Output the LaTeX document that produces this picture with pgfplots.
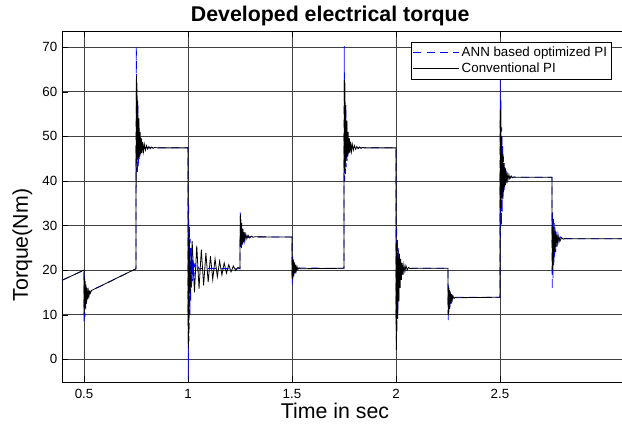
\documentclass[border=0pt]{standalone}
\usepackage{pgfplots}
\pgfplotsset{compat=1.18}
\usepackage{fontspec}
\setmainfont{Liberation Sans}
\usetikzlibrary{calc}
\begin{document}
\begin{tikzpicture}
\begin{axis}[
  scale only axis, width=420pt, height=263.25pt,
  xmin=0.394, xmax=3.087, ymin=-5.1, ymax=73.6,
  axis x line*=box, axis y line*=left,
  xtick={0.5,1,1.5,2,2.5}, ytick={0,10,...,70},
  xticklabels={0.5,1,1.5,2,2.5},
  grid=major, major grid style={black!75, line width=0.5pt},
  tick style={black}, tick align=inside,
  ticklabel style={font=\fontsize{10}{12}\selectfont},
  xticklabel style={yshift=-2pt},
  /pgf/number format/assume math mode=true,
  title={\bfseries Developed electrical torque},
  title style={font=\fontsize{16}{19}\selectfont, at={(axis description cs:0.479,1.0)}, anchor=south, yshift=-6pt},
  xlabel={Time in sec}, ylabel={Torque(Nm)},
  xlabel style={font=\fontsize{16}{19}\selectfont, at={(axis description cs:0.4875,-0.083)}, anchor=center},
  ylabel style={font=\fontsize{16}{19}\selectfont, at={(axis description cs:-0.071,0.39)}, anchor=center},
  legend style={at={(0.982,0.969)}, anchor=north east, draw=black, fill=white,
    font=\fontsize{10}{11}\selectfont, inner sep=1.5pt, row sep=-1pt, cells={anchor=west}},
  legend image code/.code={\draw[#1] (0pt,0pt) -- (34pt,0pt);},
]
\addplot[blue, line width=0.6pt, dash pattern=on 6pt off 4pt] coordinates {
(0.394,17.7) (0.5,20.0)
(0.5004,8.0) (0.502,18.5) (0.504,9.5) (0.506,17.5) (0.508,11.2) (0.510,16.5) (0.512,12.5) (0.514,15.8) (0.516,13.5) (0.519,15.3) (0.522,14.4) (0.526,15.1) (0.530,14.8) (0.535,15.4)
(0.75,20.3)
(0.7504,50) (0.7515,70) (0.753,42) (0.755,62) (0.757,41.6) (0.759,57) (0.761,43) (0.763,53) (0.765,44.5) (0.767,50.5) (0.769,45.5) (0.772,49) (0.775,46.5) (0.778,48.3) (0.782,47.0) (0.787,47.7) (0.793,47.3) (0.80,47.45)
(1.0,47.4)
(1.0004,10) (1.0015,-4.5) (1.003,35) (1.005,4) (1.007,30) (1.009,10) (1.011,27) (1.013,13) (1.015,25) (1.017,16) (1.019,23.5) (1.021,17.5) (1.024,22.3) (1.027,18.6) (1.030,21.5) (1.034,19.4) (1.038,21.0) (1.043,19.9) (1.049,20.6) (1.056,20.2) (1.065,20.35)
(1.25,20.3)
(1.2504,25) (1.2515,33.5) (1.253,24.8) (1.255,31.5) (1.257,25.0) (1.259,30.0) (1.261,25.6) (1.263,29.2) (1.265,26.0) (1.268,28.5) (1.271,26.6) (1.275,28.0) (1.279,27.0) (1.284,27.7) (1.29,27.3) (1.297,27.45)
(1.5,27.4)
(1.5004,18) (1.5015,16.8) (1.503,23) (1.505,17.8) (1.507,22.2) (1.509,18.6) (1.511,21.6) (1.513,19.2) (1.516,21.1) (1.519,19.8) (1.523,20.7) (1.528,20.2) (1.534,20.45)
(1.75,20.4)
(1.7504,50) (1.7515,70.2) (1.753,40) (1.755,62) (1.757,41.5) (1.759,57) (1.761,43) (1.763,53) (1.765,44.5) (1.767,50.5) (1.769,45.5) (1.772,49) (1.775,46.5) (1.778,48.3) (1.782,47.0) (1.787,47.7) (1.793,47.3) (1.80,47.45)
(2.0,47.4)
(2.0004,12) (2.0015,4.3) (2.003,30) (2.005,6) (2.007,27) (2.009,10) (2.011,25) (2.013,13.5) (2.015,23.5) (2.017,16) (2.020,22.5) (2.023,17.8) (2.026,21.6) (2.030,19.0) (2.034,21.0) (2.039,19.8) (2.045,20.6) (2.052,20.2) (2.06,20.4)
(2.25,20.4)
(2.2504,12) (2.2515,8.4) (2.253,16.5) (2.255,10.0) (2.257,15.6) (2.259,11.5) (2.261,15.0) (2.263,12.4) (2.266,14.5) (2.269,13.1) (2.273,14.2) (2.278,13.6) (2.284,13.9)
(2.5,13.9)
(2.5004,40) (2.5015,64) (2.503,27.4) (2.505,58) (2.507,30) (2.509,52) (2.511,33) (2.513,48) (2.515,35.5) (2.517,45.5) (2.520,37.5) (2.523,43.5) (2.526,39) (2.530,42.3) (2.534,40.0) (2.539,41.4) (2.545,40.5) (2.552,40.9) (2.56,40.8)
(2.75,40.8)
(2.7504,25) (2.7515,15.5) (2.753,33) (2.755,18) (2.757,31.5) (2.759,20.5) (2.761,30.5) (2.763,22.5) (2.765,29.5) (2.768,24.0) (2.771,28.6) (2.775,25.3) (2.779,28.0) (2.784,26.3) (2.790,27.4) (2.797,26.8) (2.805,27.05)
(3.087,27.0)
};
\addlegendentry{ANN based optimized PI}
\addplot[black, line width=0.6pt] coordinates {
(0.394,17.7) (0.5,20.0)
(0.5005,10.0) (0.503,18.2) (0.506,11.5) (0.509,16.8) (0.512,12.5) (0.515,16.0) (0.518,13.5) (0.521,15.3) (0.524,14.2) (0.527,15.2) (0.530,14.8) (0.535,15.4)
(0.75,20.3)
(0.7505,47) (0.752,63.5) (0.755,44.0) (0.758,58.0) (0.761,45.0) (0.764,54) (0.767,45.5) (0.770,51) (0.773,46) (0.776,49.5) (0.779,46.3) (0.782,48.8) (0.786,46.6) (0.790,48.2) (0.795,46.9) (0.800,47.9) (0.806,47.1) (0.812,47.7) (0.818,47.2) (0.825,47.6) (0.832,47.3) (0.840,47.5) (0.85,47.4)
(1.0,47.4)
(1.0005,10) (1.002,2.8) (1.006,28) (1.010,15.0) (1.020,26.5) (1.031,15.0) (1.042,25.5) (1.053,15.8) (1.064,24.6) (1.075,16.6) (1.086,23.8) (1.097,17.3) (1.108,23.1) (1.119,17.9) (1.130,22.5) (1.141,18.5) (1.152,22.0) (1.163,18.9) (1.174,21.6) (1.185,19.3) (1.196,21.2) (1.207,19.6) (1.218,20.9) (1.229,19.9) (1.240,20.6) (1.25,20.3)
(1.2505,27) (1.252,32.4) (1.255,25.5) (1.258,30.5) (1.261,25.8) (1.264,29.2) (1.267,26.3) (1.270,28.5) (1.274,26.7) (1.278,28.0) (1.283,27.0) (1.289,27.8) (1.296,27.2) (1.304,27.6) (1.312,27.35) (1.32,27.45)
(1.5,27.4)
(1.5005,19) (1.502,18.0) (1.505,22.5) (1.508,18.8) (1.511,21.8) (1.514,19.3) (1.517,21.2) (1.520,19.8) (1.524,20.8) (1.528,20.1) (1.533,20.5) (1.54,20.3)
(1.75,20.4)
(1.7505,47) (1.752,62.7) (1.755,42.3) (1.758,57.0) (1.761,44.5) (1.764,53.5) (1.767,45.5) (1.770,51) (1.773,46) (1.776,49.5) (1.779,46.3) (1.782,48.8) (1.786,46.6) (1.790,48.2) (1.795,46.9) (1.800,47.9) (1.806,47.1) (1.812,47.7) (1.818,47.2) (1.825,47.6) (1.832,47.3) (1.840,47.5) (1.85,47.4)
(2.0,47.4)
(2.0005,10) (2.002,2.1) (2.005,26) (2.008,9) (2.011,24.5) (2.014,13) (2.017,23.7) (2.020,16) (2.023,22.5) (2.026,17.8) (2.030,21.6) (2.034,18.9) (2.038,21.2) (2.043,19.7) (2.048,21.0) (2.054,20.0) (2.060,20.6) (2.068,20.3) (2.08,20.4)
(2.25,20.4)
(2.2505,13) (2.252,9.9) (2.255,16.0) (2.258,11.3) (2.261,15.2) (2.264,12.6) (2.267,14.6) (2.270,13.2) (2.274,14.2) (2.279,13.6) (2.285,13.9) (2.29,13.8)
(2.5,13.9)
(2.5005,35) (2.502,56) (2.505,34) (2.508,50) (2.511,36) (2.514,46) (2.517,37.5) (2.520,44) (2.523,38.5) (2.526,42.8) (2.530,39.5) (2.534,42) (2.538,40.1) (2.543,41.4) (2.548,40.5) (2.554,41.1) (2.560,40.7) (2.568,40.9) (2.575,40.8)
(2.75,40.8)
(2.7505,30) (2.752,20) (2.755,29.6) (2.758,22.5) (2.761,29.2) (2.764,24.0) (2.767,28.6) (2.770,25.2) (2.774,28.0) (2.778,25.9) (2.783,27.6) (2.789,26.5) (2.796,27.3) (2.804,26.9) (2.812,27.1) (2.82,27.0)
(3.087,27.0)
};
\addlegendentry{Conventional PI}
\end{axis}
\pgfresetboundingbox
\path ($(current axis.south west)+(-46.5pt,-31.5pt)$) rectangle ($(current axis.north east)+(0pt,23.25pt)$);
\end{tikzpicture}
\end{document}
